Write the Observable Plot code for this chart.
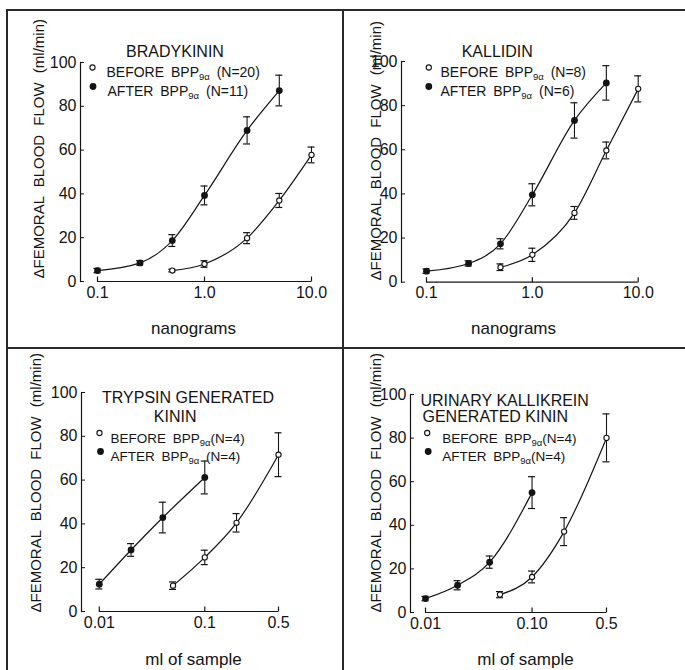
<!DOCTYPE html>
<html><head><meta charset="utf-8">
<script src="https://cdn.jsdelivr.net/npm/d3@7"></script>
<script src="https://cdn.jsdelivr.net/npm/@observablehq/plot@0.6"></script>
<style>
body{margin:0;background:#fff;}
#fig{position:relative;width:685px;height:670px;overflow:hidden;background:#fff;}
.panel{position:absolute;}
.bline{position:absolute;background:#2a2a2a;}
</style></head><body><div id="fig"></div>
<script>
const FONT = '"Liberation Sans", Arial, Helvetica, sans-serif';

// ---------------- data ----------------
const yTicks = [0, 20, 40, 60, 80, 100];
const yLabel = "ΔFEMORAL BLOOD FLOW (ml/min)";

const nanoTicks = [0.1, 1, 10];
const nanoTickLabels = ["0.1", "1.0", "10.0"];
const trypTicks = [0.01, 0.1, 0.5];
const trypTickLabels = ["0.01", "0.1", "0.5"];
const urinTicks = [0.01, 0.1, 0.5];
const urinTickLabels = ["0.01", "0.10", "0.5"];

const bradyTitle = ["BRADYKININ"];
const bradyLegend = ["BEFORE BPP9α (N=20)", "AFTER BPP9α (N=11)"];
const bradyBeforeDose = [0.5, 1, 2.5, 5, 10];
const bradyBeforeFlow = [5, 8, 19.8, 37, 57.8];
const bradyBeforeSE = [0.6, 1.5, 2.5, 3.2, 3.6];
const bradyAfterDose = [0.1, 0.25, 0.5, 1, 2.5, 5];
const bradyAfterFlow = [5, 8.5, 18.7, 39.3, 69, 87.2];
const bradyAfterSE = [1, 1, 2.7, 4.3, 6.2, 7];

const kallTitle = ["KALLIDIN"];
const kallLegend = ["BEFORE BPP9α (N=8)", "AFTER BPP9α (N=6)"];
const kallBeforeDose = [0.5, 1, 2.5, 5, 10];
const kallBeforeFlow = [6.8, 12.4, 31.4, 59.7, 87.6];
const kallBeforeSE = [1.5, 3, 2.9, 3.8, 5.9];
const kallAfterDose = [0.1, 0.25, 0.5, 1, 2.5, 5];
const kallAfterFlow = [5, 8.5, 17.4, 39.6, 73.3, 90.3];
const kallAfterSE = [1, 1.2, 2.3, 5, 8, 7.8];

const trypTitle = ["TRYPSIN GENERATED", "KININ"];
const trypLegend = ["BEFORE BPP9α(N=4)", "AFTER BPP9α (N=4)"];
const trypBeforeDose = [0.05, 0.1, 0.2, 0.5];
const trypBeforeFlow = [11.8, 24.7, 40.5, 71.6];
const trypBeforeSE = [1.7, 3.3, 4.2, 10];
const trypAfterDose = [0.01, 0.02, 0.04, 0.1];
const trypAfterFlow = [12.5, 28.1, 42.9, 61.2];
const trypAfterSE = [2.2, 2.9, 7, 7.5];

const urinTitle = ["URINARY KALLIKREIN", "GENERATED KININ"];
const urinLegend = ["BEFORE BPP9α(N=4)", "AFTER BPP9α(N=4)"];
const urinBeforeDose = [0.05, 0.1, 0.2, 0.5];
const urinBeforeFlow = [8.2, 16.3, 37.1, 80.1];
const urinBeforeSE = [1.4, 2.7, 6.4, 11];
const urinAfterDose = [0.01, 0.02, 0.04, 0.1];
const urinAfterFlow = [6.4, 12.5, 23.1, 55];
const urinAfterSE = [1, 2.1, 2.8, 7.3];

const xLabels = ["nanograms", "nanograms", "ml of sample", "ml of sample"];

// ---------------- layout (page pixels) ----------------
const panels = [
  {ox:7, oy:10, w:335, h:337, axisX:80, xpx:[97,311], y100:62, y0:281,
   ticks:nanoTicks, tickLabels:nanoTickLabels,
   before:[bradyBeforeDose,bradyBeforeFlow,bradyBeforeSE], after:[bradyAfterDose,bradyAfterFlow,bradyAfterSE],
   title:bradyTitle, titlePos:[[174.5,45,"middle"]],
   legend:bradyLegend, legPos:[[92,67,106],[92.5,86,107]], legFont:14,
   ylab:[33,278], xlab:xLabels[0], xlabPos:[193,321]},
  {ox:343, oy:10, w:342, h:337, axisX:401, xpx:[426,637.7], y100:61, y0:281.7,
   ticks:nanoTicks, tickLabels:nanoTickLabels,
   before:[kallBeforeDose,kallBeforeFlow,kallBeforeSE], after:[kallAfterDose,kallAfterFlow,kallAfterSE],
   title:kallTitle, titlePos:[[496.7,45,"middle"]],
   legend:kallLegend, legPos:[[428.3,67,440],[428.3,86,440]], legFont:14,
   ylab:[370,280], xlab:xLabels[1], xlabPos:[513,321]},
  {ox:7, oy:348, w:335, h:322, axisX:81, xpx:[98.8,278], y100:392, y0:611,
   ticks:trypTicks, tickLabels:trypTickLabels,
   before:[trypBeforeDose,trypBeforeFlow,trypBeforeSE], after:[trypAfterDose,trypAfterFlow,trypAfterSE],
   title:trypTitle, titlePos:[[187.5,391,"middle"],[174.7,410,"middle"]],
   legend:trypLegend, legPos:[[99,432.5,110],[100,451,110]], legFont:13.5,
   ylab:[30,612], xlab:xLabels[2], xlabPos:[193,652]},
  {ox:343, oy:348, w:342, h:322, axisX:410, xpx:[425,606], y100:394, y0:612,
   ticks:urinTicks, tickLabels:urinTickLabels,
   before:[urinBeforeDose,urinBeforeFlow,urinBeforeSE], after:[urinAfterDose,urinAfterFlow,urinAfterSE],
   title:urinTitle, titlePos:[[420,394,"start"],[422,410,"start"]],
   legend:urinLegend, legPos:[[426.7,432.5,441.7],[427.7,451,441.7]], legFont:13.5,
   ylab:[370,612], xlab:xLabels[3], xlabPos:[525,652]}
];

const INK = "#141414";
const fig = document.getElementById("fig");
const tickUp = {draw(ctx, size) { const l = Math.sqrt(size / Math.PI); ctx.moveTo(0, 0); ctx.lineTo(0, -l); }};

function rowsOf([xs, ys, es]) { return xs.map((x, i) => ({x, y: ys[i], e: es[i]})); }

function errorMarks(rows) {
  return [
    Plot.ruleX(rows, {x:"x", y1:d=>d.y-d.e, y2:d=>d.y+d.e, stroke:INK, strokeWidth:1.1}),
    Plot.ruleY(rows, {y:d=>d.y+d.e, x1:"x", x2:"x", insetLeft:-3.5, insetRight:-3.5, stroke:INK, strokeWidth:1.2}),
    Plot.ruleY(rows, {y:d=>d.y-d.e, x1:"x", x2:"x", insetLeft:-3.5, insetRight:-3.5, stroke:INK, strokeWidth:1.2})
  ];
}

function buildPanel(c) {
  const L = p => p - c.ox, T = p => p - c.oy;
  const ml = L(c.axisX), mt = T(c.y100), mb = c.h - T(c.y0);
  const xr = [L(c.xpx[0]), L(c.xpx[1])];
  const at = (px, py) => ({frameAnchor:"top-left", dx: L(px) - ml, dy: T(py) - mt});
  const before = rowsOf(c.before), after = rowsOf(c.after);
  const ticks = c.ticks;
  const marks = [
    Plot.frame({anchor:"left", stroke:INK, strokeWidth:1.2}),
    Plot.ruleY([0], {x1: ticks[0], x2: ticks[ticks.length-1], stroke:INK, strokeWidth:1.2}),
    Plot.axisY(yTicks, {anchor:"left", tickSize:-4, tickPadding:8, label:null, fontSize:16, stroke:INK, fill:INK}),
    Plot.dot(ticks, {x:d=>d, frameAnchor:"bottom", symbol:tickUp, r:5, stroke:INK, strokeWidth:1.2}),
    Plot.text(ticks, {x:d=>d, text:(d, i) => c.tickLabels[i], frameAnchor:"bottom", dy:16, fontSize:16, fill:INK}),
    Plot.line(before, {x:"x", y:"y", curve:"monotone-x", stroke:INK, strokeWidth:1.2}),
    Plot.line(after, {x:"x", y:"y", curve:"monotone-x", stroke:INK, strokeWidth:1.2}),
    ...errorMarks(before),
    ...errorMarks(after),
    Plot.dot(before, {x:"x", y:"y", r:2.6, fill:"white", stroke:INK, strokeWidth:1.1}),
    Plot.dot(after, {x:"x", y:"y", r:3.4, fill:INK}),
    // legend
    Plot.dot([c.legend[0]], {...at(c.legPos[0][0], c.legPos[0][1]), r:2.6, fill:"white", stroke:INK, strokeWidth:1.1}),
    Plot.dot([c.legend[1]], {...at(c.legPos[1][0], c.legPos[1][1]), r:3.4, fill:INK}),
    ...c.legend.map((t, i) => Plot.text([t], {text:d=>d, ...at(c.legPos[i][2], c.legPos[i][1]), textAnchor:"start", fontSize:c.legFont, fill:INK})),
    // titles
    ...c.title.map((t, i) => Plot.text([t], {text:d=>d, ...at(c.titlePos[i][0], c.titlePos[i][1]), textAnchor:c.titlePos[i][2], fontSize:16, fill:INK})),
    // axis titles
    Plot.text([yLabel], {text:d=>d, ...at(c.ylab[0], c.ylab[1]), rotate:-90, textAnchor:"start", fontSize:15, fill:INK}),
    Plot.text([c.xlab], {text:d=>d, ...at(c.xlabPos[0], c.xlabPos[1]), textAnchor:"middle", fontSize:17, fill:INK})
  ];
  const svg = Plot.plot({
    width:c.w, height:c.h, marginLeft:ml, marginTop:mt, marginBottom:mb, marginRight:c.w - xr[1],
    x:{type:"log", domain:[ticks[0], ticks[ticks.length-1]], range:xr, axis:null},
    y:{domain:[0,100]},
    style:{fontFamily:FONT, fontSize:"15px", color:INK, background:"transparent", overflow:"visible"},
    marks
  });
  // subscripts and spacing
  d3.select(svg).selectAll("text").each(function() {
    const t = this.textContent;
    if (t === yLabel) { this.setAttribute("style", "word-spacing:5px"); return; }
    const k = t.indexOf("BPP9α");
    if (k < 0) return;
    const s = d3.select(this);
    s.text(null).attr("style", "word-spacing:3px");
    s.append("tspan").text(t.slice(0, k + 3));
    s.append("tspan").attr("dy", 3).attr("font-size", 9.5).text("9α");
    s.append("tspan").attr("dy", -3).text(t.slice(k + 5));
  });
  svg.classList.add("panel");
  svg.style.left = c.ox + "px";
  svg.style.top = c.oy + "px";
  svg.style.position = "absolute";
  fig.appendChild(svg);
}
panels.forEach(buildPanel);

// panel borders
function bline(x, y, w, h) {
  const d = document.createElement("div");
  d.className = "bline";
  Object.assign(d.style, {left:x+"px", top:y+"px", width:w+"px", height:h+"px"});
  fig.appendChild(d);
}
bline(6, 9, 1.5, 661);
bline(6, 9, 679, 1.5);
bline(342, 9, 1.5, 661);
bline(6, 347, 679, 1.5);
</script></body></html>
